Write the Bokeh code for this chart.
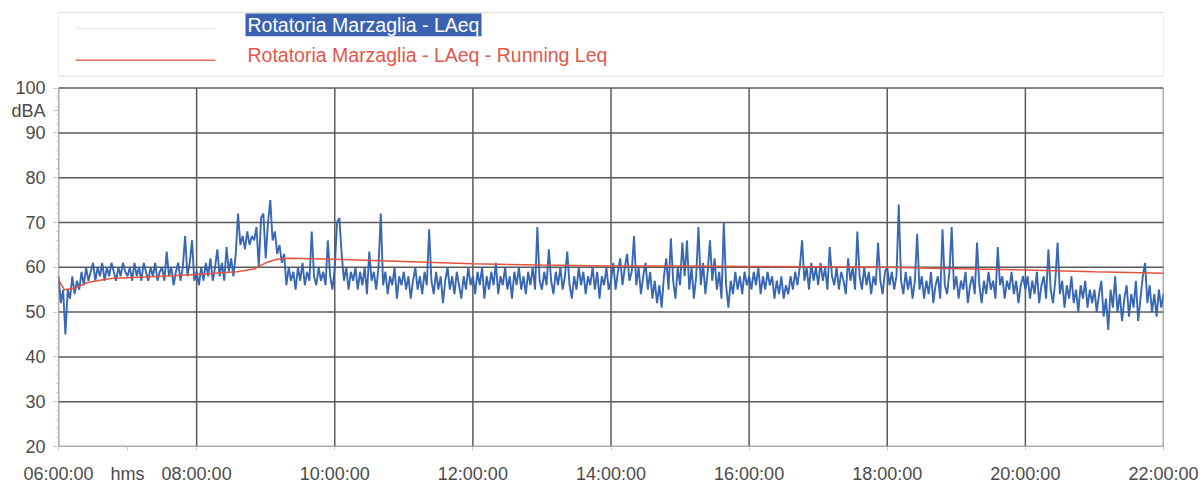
from bokeh.plotting import figure
from bokeh.models import Range1d, FixedTicker
from bokeh.embed import file_html
from bokeh.resources import INLINE
from bokeh.core.properties import value

FONT = "Liberation Sans"

# ---------------- data ----------------
series_title = "Rotatoria Marzaglia - LAeq"
running_title = "Rotatoria Marzaglia - LAeq - Running Leq"

x_tick_hours = [6, 8, 10, 12, 14, 16, 18, 20, 22]
x_tick_labels = ["06:00:00", "08:00:00", "10:00:00", "12:00:00", "14:00:00",
                 "16:00:00", "18:00:00", "20:00:00", "22:00:00"]
x_unit_hour = 7
x_unit_label = "hms"
y_ticks = [20, 30, 40, 50, 60, 70, 80, 90, 100]
y_unit_tick = 95
y_unit_label = "dBA"

# LAeq readings (dBA), 2-minute samples, one list per hour
h06 = [58, 52, 55, 45, 55, 53, 58, 54, 57, 55, 59, 56, 60, 57, 59, 61, 57, 60, 58, 61,
       57, 60, 58, 61, 59, 57, 60, 58, 61, 59]
h07 = [58, 60, 57, 61, 58, 60, 57, 61, 59, 57, 60, 58, 61, 57, 59, 60, 57, 63.5, 58, 60,
       56, 59, 61, 57, 60, 67, 58, 61, 66, 57]
h08 = [59, 56, 60, 57, 61, 58, 62, 57, 60, 64, 58, 61, 57, 64.5, 59, 62, 58, 63, 72, 65,
       67, 64, 68, 65, 67, 66, 69, 60, 71, 72]
h09 = [62, 70, 75, 66, 68, 63, 65, 61, 63, 56, 60, 57, 59, 55, 60, 57, 61, 56, 59, 57,
       68, 58, 56, 60, 57, 59, 56, 66, 58, 55]
h10 = [60, 70, 71, 63, 57, 60, 55, 59, 57, 60, 55, 59, 56, 60, 54, 63.5, 57, 59, 55, 60,
       72, 56, 59, 54, 58, 56, 60, 53, 58, 56]
h11 = [59, 55, 58, 53, 57, 60, 55, 58, 54, 59, 56, 68.5, 57, 54, 59, 55, 58, 52, 57, 60,
       55, 58, 54, 59, 56, 53, 58, 55, 60, 56]
h12 = [58, 54, 59, 56, 60, 53, 58, 55, 59, 56, 61, 54, 58, 56, 60, 55, 58, 53, 59, 56,
       60, 55, 58, 54, 59, 56, 60, 55, 69, 57]
h13 = [55, 59, 56, 64, 57, 54, 59, 56, 60, 55, 58, 63.5, 56, 53, 58, 55, 60, 56, 59, 54,
       58, 56, 60, 55, 59, 53, 58, 56, 60, 55]
h14 = [57, 61, 55, 59, 62, 56, 60, 63, 57, 59, 67, 56, 60, 54, 58, 61, 55, 59, 53, 57,
       52, 56, 51, 58, 62, 55, 66.5, 57, 53, 60]
h15 = [56, 65.5, 58, 66, 55, 60, 53, 58, 69, 56, 61, 54, 59, 66, 57, 62, 55, 59, 53, 70,
       56, 51, 57, 54, 59, 55, 58, 54, 59, 56]
h16 = [58, 55, 59, 56, 60, 54, 58, 55, 59, 56, 58, 53, 57, 54, 58, 53, 56, 54, 58, 55,
       59, 56, 60, 66, 57, 60, 55, 61, 57, 60]
h17 = [56, 61, 57, 60, 55, 64.5, 58, 56, 60, 55, 59, 57, 54, 62, 57, 60, 55, 68, 58, 55,
       60, 56, 59, 54, 58, 56, 65.5, 57, 54, 59]
h18 = [60, 56, 59, 55, 58, 74, 57, 54, 59, 55, 58, 53, 57, 67.5, 55, 58, 53, 57, 54, 59,
       52, 56, 58, 53, 68.5, 56, 54, 59, 69, 55]
h19 = [58, 53, 57, 55, 59, 52, 56, 58, 54, 65.5, 56, 52, 57, 54, 59, 55, 57, 53, 64.5, 56,
       58, 53, 57, 55, 59, 54, 57, 52, 56, 58]
h20 = [55, 58, 53, 57, 54, 59, 52, 56, 58, 53, 64, 55, 52, 57, 65.5, 54, 57, 51, 56, 53,
       58, 52, 55, 50, 56, 53, 57, 51, 55, 52]
h21 = [55, 50, 54, 57, 49, 53, 46, 55, 51, 58, 50, 54, 48, 53, 56, 49, 54, 51, 57, 48,
       53, 58, 61, 52, 56, 50, 54, 49, 55, 51]
last_value = 54  # 22:00:00

# Running Leq (dBA) read at these clock times
running_times = ["06:00", "06:05", "06:15", "06:25", "06:45", "07:30", "08:00", "08:35",
                 "08:50", "09:00", "09:10", "09:20", "10:00", "11:00", "12:00", "13:00",
                 "14:00", "15:00", "16:00", "17:00", "18:00", "19:00", "20:00", "21:00",
                 "22:00"]
running_leq = [57.2, 55.0, 55.4, 56.6, 57.5, 58.0, 58.4, 59.0, 59.6, 61.0, 61.8, 62.0,
               61.8, 61.3, 60.8, 60.5, 60.3, 60.3, 60.2, 60.1, 60.0, 59.7, 59.4, 59.0, 58.7]

hourly = [(6, h06), (7, h07), (8, h08), (9, h09), (10, h10), (11, h11), (12, h12),
          (13, h13), (14, h14), (15, h15), (16, h16), (17, h17), (18, h18), (19, h19),
          (20, h20), (21, h21)]

laeq_t, laeq_v = [], []
for hour, vals in hourly:
    n = len(vals)
    for k, val in enumerate(vals):
        laeq_t.append(hour + k / n)
        laeq_v.append(val)
laeq_t.append(22.0)
laeq_v.append(last_value)

run_t = [int(s[:2]) + int(s[3:]) / 60 for s in running_times]

# ---------------- layout geometry ----------------
W, H = 1203, 486
ML, MR, MT, MB = 58, 40, 0, 38        # frame: x 58..1163, y 0..448 (figure px)
FRAME_W = W - ML - MR
FRAME_H = H - MT - MB
X0, X1 = x_tick_hours[0], x_tick_hours[-1]
Y0, YTOP = y_ticks[0], y_ticks[-1]
PX_PER_DB = 4.5
y_max = Y0 + FRAME_H / PX_PER_DB     # extra room above 100 dB for the legend


def hx(px):   # figure-pixel x -> hours (legend decoration placement only)
    return X0 + (px - ML) / FRAME_W * (X1 - X0)


def dy(py):   # figure-pixel y (from top) -> dB (legend decoration placement only)
    return y_max - (py - MT) / PX_PER_DB


p = figure(width=W, height=H, x_range=Range1d(X0, X1), y_range=Range1d(Y0, y_max),
           output_backend="svg", toolbar_location=None,
           min_border_left=ML, min_border_right=MR, min_border_top=MT, min_border_bottom=MB)
p.outline_line_color = None
p.grid.visible = False

grid_col = "#5a5a5a"
# grid lines and plot border, limited to the 20..100 dB area
p.segment(x0=x_tick_hours, x1=x_tick_hours, y0=[Y0] * len(x_tick_hours),
          y1=[YTOP] * len(x_tick_hours), line_color=grid_col, line_width=1.5)
p.segment(x0=[X0] * len(y_ticks), x1=[X1] * len(y_ticks), y0=y_ticks, y1=y_ticks,
          line_color=grid_col, line_width=1.5)

# data
p.line(laeq_t, laeq_v, line_color="#2d5fb2", line_width=1.9, line_alpha=0.95)
p.line(run_t, running_leq, line_color="#e5533f", line_width=1.5)

# legend (drawn above the 100 dB line)
p.quad(left=[hx(58)], right=[hx(1163)], top=[dy(12)], bottom=[dy(76)], fill_color=None,
       line_color="#dcdcdc", line_width=1)
p.segment(x0=[hx(75)], x1=[hx(215)], y0=[dy(28)], y1=[dy(28)], line_color="#e6e6e6",
          line_width=1)
p.quad(left=[hx(245)], right=[hx(481)], top=[dy(13)], bottom=[dy(36)],
       fill_color="#3a62b0", line_color=None)
p.text(x=[hx(247)], y=[dy(24.5)], text=[series_title], text_color="white",
       text_font=value(FONT), text_font_size="19.5px", text_baseline="middle",
       text_align="left")
p.segment(x0=[hx(75)], x1=[hx(215)], y0=[dy(60)], y1=[dy(60)], line_color="#ee6a5c",
          line_width=1.5)
p.text(x=[hx(247)], y=[dy(55)], text=[running_title], text_color="#e5564a",
       text_font=value(FONT), text_font_size="19.5px", text_baseline="middle",
       text_align="left")

# axes
p.xaxis.ticker = FixedTicker(ticks=x_tick_hours + [x_unit_hour])
xo = {h: lab for h, lab in zip(x_tick_hours, x_tick_labels)}
xo[x_unit_hour] = x_unit_label
p.xaxis.major_label_overrides = xo
p.yaxis.ticker = FixedTicker(ticks=y_ticks + [y_unit_tick],
                             minor_ticks=list(range(Y0, YTOP + 1, 2)))
yo = {v: str(v) for v in y_ticks}
yo[y_unit_tick] = y_unit_label
p.yaxis.major_label_overrides = yo
p.yaxis.bounds = (Y0, YTOP)

p.axis.axis_line_color = None
p.axis.major_label_text_font = FONT
p.axis.major_label_text_font_size = "18px"
p.axis.major_label_text_color = "#4a4a4a"
p.axis.major_tick_in = 0
p.xaxis.major_tick_out = 4
p.xaxis.major_tick_line_color = "#cccccc"
p.xaxis.minor_tick_line_color = None
p.xaxis.major_label_standoff = 13
p.yaxis.major_tick_out = 5
p.yaxis.major_tick_line_color = "#bbbbbb"
p.yaxis.minor_tick_in = 0
p.yaxis.minor_tick_out = 3
p.yaxis.minor_tick_line_color = "#d4d4d4"
p.yaxis.major_label_standoff = 8

open("out.html", "w").write(file_html(p, INLINE))
